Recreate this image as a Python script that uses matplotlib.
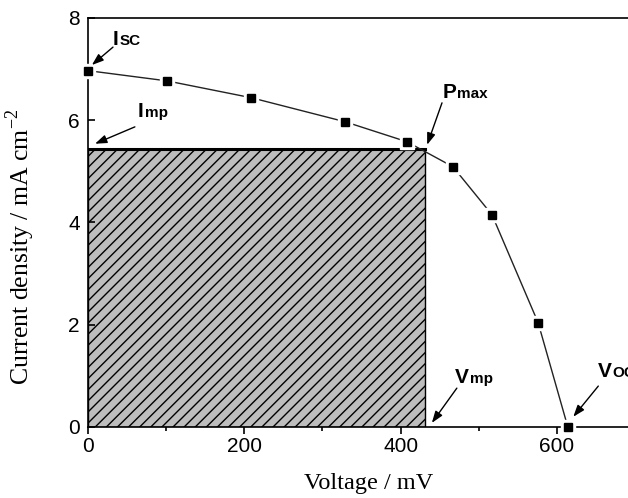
import numpy as np
import matplotlib
matplotlib.use("Agg")
import matplotlib.pyplot as plt
from matplotlib.ticker import MultipleLocator
from matplotlib.patches import Rectangle

# J-V data
voltage = [0, 101, 209, 329, 408, 467, 517, 576, 614]        # mV
current = [6.97, 6.77, 6.44, 5.97, 5.58, 5.09, 4.15, 2.04, 0.0]  # mA cm-2

# maximum power point
v_mp = 431
j_mp = 5.43

# labels: (main letter, subscript, text pos, arrow tail, arrow tip)
labels = [
    ("I", "SC", (32, 7.47), (32, 7.43), (5, 7.08)),
    ("I", "mp", (64, 6.06), (60, 5.87), (9, 5.54)),
    ("P", "max", (454, 6.44), (453, 6.34), (434, 5.52)),
    ("V", "mp", (470, 0.86), (472, 0.76), (440, 0.08)),
    ("V", "OC", (652, 0.98), (653, 0.80), (621, 0.20)),
]

plt.rcParams["font.family"] = ["Liberation Sans", "DejaVu Sans"]
plt.rcParams["mathtext.fontset"] = "custom"
plt.rcParams["mathtext.rm"] = "Liberation Serif"
plt.rcParams["hatch.linewidth"] = 1.0

fig = plt.figure(figsize=(6.28, 4.98), dpi=100)
ax = fig.add_axes([0.1401, 0.1426, 0.8599, 0.8213])

# shaded Pmax rectangle
rect = Rectangle((0, 0), v_mp, j_mp, facecolor="#bdbdbd", edgecolor="black",
                 hatch="///", linewidth=1.0, zorder=1)
ax.add_patch(rect)
ax.plot([0, v_mp], [j_mp, j_mp], color="black", lw=2.2, zorder=2)

# curve with gaps at the markers
ax.plot(voltage, current, color="#222222", lw=1.0, zorder=3, clip_on=False)
ax.plot(voltage, current, "s", color="white", ms=10, zorder=4, clip_on=False)
ax.plot(voltage, current, "s", color="black", ms=6, zorder=5, clip_on=False)

for big, small, (tx, ty), tail, tip in labels:
    off = {"I": 5.0, "P": 10.5, "V": 10.5}[big]
    ax.annotate("", xy=tip, xytext=tail,
                arrowprops=dict(arrowstyle="-|>,head_length=0.7,head_width=0.25",
                                color="black", lw=1.0, shrinkA=0, shrinkB=0),
                zorder=6, annotation_clip=False)
    ax.text(tx, ty, big, fontsize=15, fontweight="bold", va="baseline",
            ha="left", zorder=6, clip_on=False)
    ax.annotate(small, xy=(tx, ty), xytext=(off, 0), textcoords="offset points",
                fontsize=11, fontweight="bold", va="baseline", ha="left",
                zorder=6, annotation_clip=False)

ax.set_xlim(0, 691)
ax.set_ylim(0, 8)
ax.xaxis.set_major_locator(MultipleLocator(200))
ax.xaxis.set_minor_locator(MultipleLocator(100))
ax.yaxis.set_major_locator(MultipleLocator(2))

ax.spines["right"].set_visible(False)
for s in ["left", "bottom", "top"]:
    ax.spines[s].set_linewidth(1.2)

ax.tick_params(axis="x", which="major", direction="out", length=5, width=1.2,
               labelsize=15, pad=2, top=False)
ax.tick_params(axis="x", which="minor", direction="out", length=3, width=1.2, top=False)
ax.tick_params(axis="y", which="major", direction="in", length=5, width=1.2,
               labelsize=15, pad=6, right=False)

ax.set_xlabel("Voltage / mV", family="Liberation Serif", fontsize=17.5)
ax.set_ylabel("Current density / mA cm$^{-2}$", family="Liberation Serif",
              fontsize=18.5)
ax.xaxis.set_label_coords(0.52, -0.112)
ax.yaxis.set_label_coords(-0.094, 0.44)

fig.savefig("out.png", dpi=100)
